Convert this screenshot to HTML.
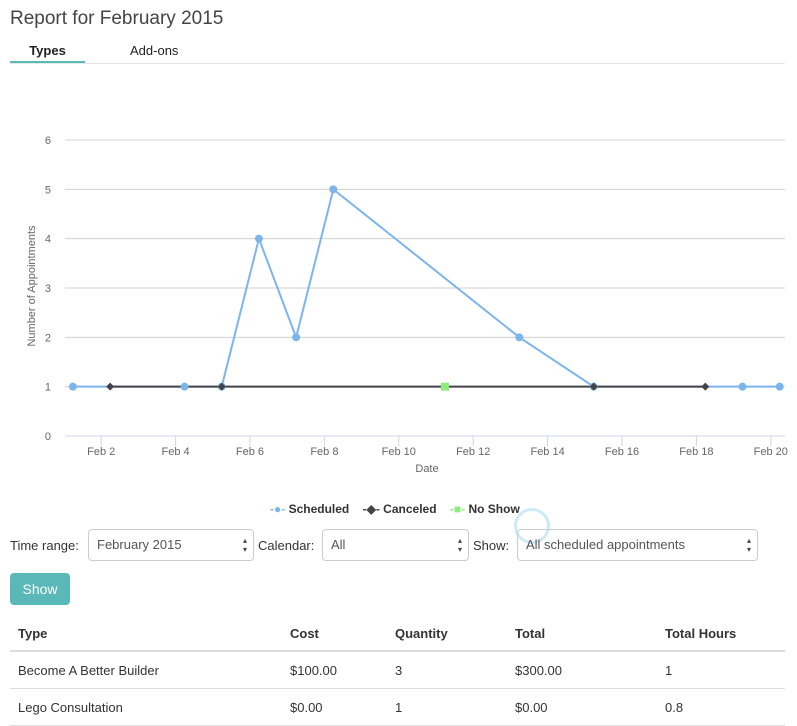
<!DOCTYPE html>
<html><head><meta charset="utf-8">
<style>
body{margin:0;width:797px;height:722px;overflow:hidden;background:#fff;font-family:"Liberation Sans",sans-serif;color:#333;position:relative}
.abs{position:absolute}
.sel{position:absolute;top:529px;height:32px;border:1px solid #ccc;border-radius:4px;box-sizing:border-box;font-size:13px;color:#555;line-height:30px;padding-left:8px}
.sel:after{content:"\25B4\A\25BE";white-space:pre;position:absolute;right:6px;top:6px;font-size:8px;line-height:9px;color:#444}
.lbl{position:absolute;top:538px;font-size:13px;color:#333}
table{position:absolute;left:10px;top:616px;width:775px;border-collapse:collapse;font-size:13px}
th{text-align:left;font-weight:bold;height:34px;border-bottom:2px solid #ddd;padding:0 0 0 8px}
td{height:36px;border-bottom:1px solid #ddd;padding:0 0 0 8px}
</style></head><body>
<div class="abs" style="left:10px;top:8px;font-size:19px;color:#444">Report for February 2015</div>
<div class="abs" style="left:10px;top:43px;width:75px;text-align:center;font-size:13px;font-weight:bold;color:#222">Types</div>
<div class="abs" style="left:10px;top:61px;width:75px;height:2px;background:#5bb8b8"></div>
<div class="abs" style="left:130px;top:43px;font-size:13px;color:#222">Add-ons</div>
<div class="abs" style="left:10px;top:63px;width:775px;height:1px;background:#e6e6e6"></div>
<svg class="abs" style="left:0;top:0" width="797" height="500" font-family="Liberation Sans, sans-serif">
<g id="grid"></g><g id="series"></g>
<text x="35" y="286" font-size="11" fill="#666" text-anchor="middle" transform="rotate(-90 35 286)">Number of Appointments</text>
<text x="427" y="472" font-size="11" fill="#666" text-anchor="middle">Date</text>
</svg>
<div class="abs" style="left:270px;top:502px;font-size:12px;font-weight:bold;color:#333;white-space:nowrap">
<span><span style="color:#7cb5ec">-●-</span> Scheduled</span>&nbsp;&nbsp;&nbsp;
<span><span style="color:#434348">-◆-</span> Canceled</span>&nbsp;&nbsp;&nbsp;
<span><span style="color:#90ed7d">-■-</span> No Show</span></div>
<div class="abs" style="left:514px;top:508px;width:36px;height:36px;border:3px solid #cdeaf7;border-radius:50%;box-sizing:border-box"></div>
<div class="lbl" style="left:10px">Time range:</div>
<div class="sel" style="left:88px;width:166px">February 2015</div>
<div class="lbl" style="left:258px">Calendar:</div>
<div class="sel" style="left:322px;width:147px">All</div>
<div class="lbl" style="left:473px">Show:</div>
<div class="sel" style="left:517px;width:241px">All scheduled appointments</div>
<div class="abs" style="left:10px;top:573px;width:60px;height:32px;background:#5bb8b8;border-radius:4px;color:#fff;font-size:14px;line-height:32px;text-align:center">Show</div>
<table>
<tr><th style="width:264px">Type</th><th style="width:97px">Cost</th><th style="width:112px">Quantity</th><th style="width:142px">Total</th><th>Total Hours</th></tr>
<tr><td>Become A Better Builder</td><td>$100.00</td><td>3</td><td>$300.00</td><td>1</td></tr>
<tr><td>Lego Consultation</td><td>$0.00</td><td>1</td><td>$0.00</td><td>0.8</td></tr>
</table>
<script>
const yTicks=[0,1,2,3,4,5,6];
const xTickDays=[2,4,6,8,10,12,14,16,18,20];
const schedDays=[1,4,5,6,7,8,13,15,19,20];
const schedVals=[1,1,1,4,2,5,2,1,1,1];
const cancelDays=[2,5,15,18];
const cancelVals=[1,1,1,1];
const noShowDays=[11];
const noShowVals=[1];
const NS="http://www.w3.org/2000/svg";
const X=d=>64+(d-1)*37.2;
const Xp=d=>X(d+0.24);
const Y=v=>436-v*49.33;
const grid=document.getElementById('grid'),ser=document.getElementById('series');
function mk(tag,attrs,parent){const e=document.createElementNS(NS,tag);for(const k in attrs)e.setAttribute(k,attrs[k]);parent.appendChild(e);return e;}
yTicks.forEach(v=>{
 const l=mk('line',{x1:65,x2:785,y1:Y(v),y2:Y(v),stroke:v===0?'#ccd6eb':'#d0d0d0','stroke-width':1},grid);
 
 
 const t=mk('text',{x:51,y:Y(v)+4,'font-size':11,fill:'#666','text-anchor':'end'},grid);t.textContent=v;
 
 
});
xTickDays.forEach(d=>{
 const l=mk('line',{x1:X(d),x2:X(d),y1:436,y2:446,stroke:'#ccd6eb'},grid);
 
 
 const t=mk('text',{x:X(d),y:455,'font-size':11,fill:'#666','text-anchor':'middle'},grid);t.textContent='Feb '+d;
 
 
});
function line(days,vals,color,name){
 const p=mk('polyline',{points:days.map((d,i)=>Xp(d)+','+Y(vals[i])).join(' '),fill:'none',stroke:color,'stroke-width':2},ser);
 
 
}
line(schedDays,schedVals,'#7cb5ec','scheduled');
line(cancelDays,cancelVals,'#434348','canceled');
schedDays.forEach((d,i)=>{const c=mk('circle',{cx:Xp(d),cy:Y(schedVals[i]),r:4,fill:'#7cb5ec'},ser);
 
 });
cancelDays.forEach((d,i)=>{const x=Xp(d),y=Y(cancelVals[i]);const c=mk('polygon',{points:`${x},${y-4} ${x+4},${y} ${x},${y+4} ${x-4},${y}`,fill:'#434348'},ser);
 
 });
noShowDays.forEach((d,i)=>{const c=mk('rect',{x:Xp(d)-4,y:Y(noShowVals[i])-4,width:8,height:8,fill:'#90ed7d'},ser);
 
 });
</script>
</body></html>
